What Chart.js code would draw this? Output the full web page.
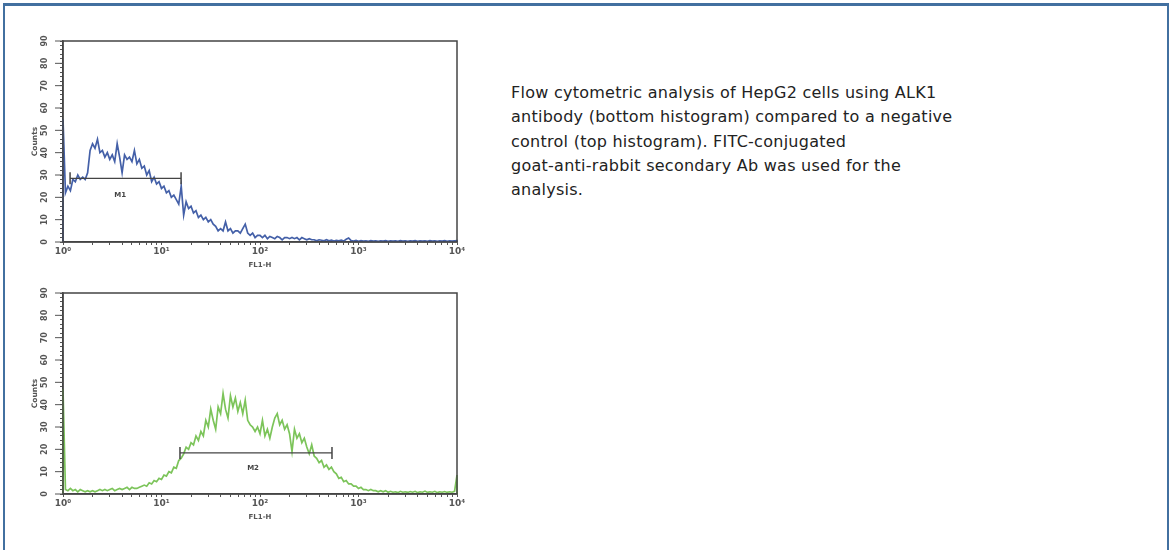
<!DOCTYPE html>
<html><head><meta charset="utf-8">
<script src="https://cdn.jsdelivr.net/npm/chart.js@4.4.1/dist/chart.umd.min.js"></script>
<style>
html,body{margin:0;padding:0;background:#fff;width:1172px;height:550px;overflow:hidden;}
#frame{position:absolute;left:3px;top:3px;width:1166px;height:600px;border-top:3px solid #4270a0;border-left:2px solid #4270a0;border-right:2px solid #4270a0;box-sizing:border-box;}
canvas{position:absolute;left:0;}
#topChart{top:0px;}
#botChart{top:252px;}
#caption{position:absolute;left:511px;top:81px;font-family:"DejaVu Sans",sans-serif;font-size:16px;letter-spacing:0.26px;line-height:24.3px;color:#222;white-space:nowrap;}
</style></head><body>
<div id="frame"></div>
<canvas id="topChart" width="480" height="270"></canvas>
<canvas id="botChart" width="480" height="270"></canvas>
<div id="caption">Flow cytometric analysis of HepG2 cells using ALK1<br>antibody (bottom histogram) compared to a negative<br>control (top histogram). FITC-conjugated<br>goat-anti-rabbit secondary Ab was used for the<br>analysis.</div>
<script>
// FL1-H channel positions (categories)
const fl1Channels = [
1.000,1.000,1.059,1.122,1.189,1.259,1.334,1.413,1.496,1.585,1.679,1.778,1.884,1.995,2.113,2.239,2.371,2.512,2.661,2.818,2.985,3.162,3.350,3.548,3.758,3.981,4.217,4.467,4.732,5.012,5.309,5.623,5.957,6.310,6.683,7.079,7.499,7.943,8.414,8.913,9.441,
10.00,10.59,11.22,11.89,12.59,13.34,14.13,14.96,15.85,16.79,17.78,18.84,19.95,21.13,22.39,23.71,25.12,26.61,28.18,29.85,31.62,33.50,35.48,37.58,39.81,42.17,44.67,47.32,50.12,53.09,56.23,59.57,63.10,66.83,70.79,74.99,79.43,84.14,89.13,94.41,
100.0,105.9,112.2,118.9,125.9,133.4,141.3,149.6,158.5,167.9,177.8,188.4,199.5,211.3,223.9,237.1,251.2,266.1,281.8,298.5,316.2,335.0,354.8,375.8,398.1,421.7,446.7,473.2,501.2,530.9,562.3,595.7,631.0,668.3,707.9,749.9,794.3,841.4,891.3,944.1,
1000,1059,1122,1189,1259,1334,1413,1496,1585,1679,1778,1884,1995,2113,2239,2371,2512,2661,2818,2985,3162,3350,3548,3758,3981,4217,4467,4732,5012,5309,5623,5957,6310,6683,7079,7499,7943,8414,8913,9441,
10000,10000];

// Negative control (top, blue) counts
const controlCounts = [
0,
55,22,25,23,28,27,30,28,29,28,
31,41,44,42,46,40,41,38,40,37,
39,36,44,38,31,39,37,38,36,41,
35,37,33,34,30,32,27,29,26,27,
24,25,22,23,20,21,19,17,25,12,
18,15,16,13,14,11,12,10,11,9,
10,8,7,5,6,5,9,5,6,4,
5,5,4,6,8,4,3,4,2,3,
3,2,3,1.5,2.5,2,1.5,2.5,2,1,
2,2,1.5,2,1.5,2,1,2,1.5,1,
1.5,1,1,0.5,1,0.8,0.5,1,0.5,0.8,
0.4,0.7,0.5,0.8,0.4,1.2,1.8,0.6,0.4,0.7,
0.3,0.6,0.4,0.5,0.3,0.6,0.4,0.5,0.3,0.5,
0.4,0.6,0.3,0.5,0.4,0.5,0.3,0.6,0.4,0.5,
0.3,0.5,0.4,0.6,0.3,0.5,0.4,0.5,0.3,0.6,
0.4,0.5,0.3,0.5,0.4,0.6,0.3,0.5,0.4,0.5,
0.6,0];

// ALK1 antibody (bottom, green) counts
const alk1Counts = [
0,
47,2,1.5,2.5,1.5,2,1,2,1.5,1,
1.5,1,1.5,1,1.5,2,1.5,2,1.5,2,
2.5,1.5,2,2.5,2,2.5,3,2,3,2.5,
2.5,3,3.5,4,3.5,5,4.5,6,5.5,7,
6.5,8.5,8,10,9.5,12,11.5,15,16,18,
21,20,23,22,26,24,28,26,33,30,
38,33,29,39,36,45,38,34,44,39,
43,37,41,36,42,33,31,30,28,30,
27,33,26,29,25,30,34,36,31,33,
29,31,27,19,29,25,27,23,25,21,
18,22,17,16,14,15,12,13,11,12,
10,9,7,7.5,5.5,6,4.5,4.5,3.5,3.5,
2.5,3,2,2,1.5,2,1.5,1.5,1,1.5,
1,1.5,0.8,1.2,0.8,1,0.6,1.2,0.8,1,
0.7,1.1,0.8,1.2,0.6,1,0.8,1.3,0.7,1,
0.8,1.2,0.6,1,0.8,1.1,0.7,1,0.8,1.2,
8.5,0];

// Axis ticks
const xMajorTicks = [1, 10, 100, 1000, 10000];
const xMajorLabels = ['10\u2070', '10\u00B9', '10\u00B2', '10\u00B3', '10\u2074'];
const xMinorMantissas = [2, 3, 4, 5, 6, 7, 8, 9];
const yLabelValues = [0, 10, 20, 30, 40, 50, 60, 70, 80, 90];
const yMinorStep = 2;

// Marker gates
const m1Range = [1.18, 15.8];
const m1Level = 28.5;
const m1LabelPos = [3.8, 21];
const m2Range = [15.4, 538];
const m2Level = 18.4;
const m2LabelPos = [85, 11.7];

function buildXTicks() {
  const t = [];
  for (let d = 0; d < 4; d++) {
    t.push(xMajorTicks[d]);
    xMinorMantissas.forEach(m => t.push(m * xMajorTicks[d]));
  }
  t.push(xMajorTicks[4]);
  return t;
}
function buildYTicks() {
  const t = [];
  for (let v = 0; v <= 90; v += yMinorStep) t.push(v);
  return t;
}

const FONT = 'DejaVu Sans';

function makeChart(id, counts, color, range, level, mName, mPos) {
  const pts = fl1Channels.map((x, i) => ({x: x, y: counts[i]}));
  const decor = {
    id: 'decor',
    afterDraw(chart) {
      const ctx = chart.ctx, a = chart.chartArea;
      const xs = chart.scales.x, ys = chart.scales.y;
      ctx.save();
      ctx.strokeStyle = '#444';
      ctx.lineWidth = 1.5;
      ctx.strokeRect(a.left, a.top, a.right - a.left, a.bottom - a.top);
      ctx.fillStyle = '#555';
      ctx.font = 'bold 8px "' + FONT + '"';
      ctx.textAlign = 'center';
      ctx.textBaseline = 'middle';
      yLabelValues.forEach(v => {
        const py = ys.getPixelForValue(v);
        ctx.beginPath();
        ctx.moveTo(a.left - 8, py);
        ctx.lineTo(a.left, py);
        ctx.lineWidth = 1;
        ctx.strokeStyle = '#555';
        ctx.stroke();
        ctx.save();
        ctx.translate(45, py);
        ctx.rotate(-Math.PI / 2);
        ctx.fillText(String(v), 0, 0);
        ctx.restore();
      });
      ctx.fillStyle = '#444';
      ctx.font = 'bold 7px "' + FONT + '"';
      ctx.fillText(mName, xs.getPixelForValue(mPos[0]), ys.getPixelForValue(mPos[1]));
      ctx.restore();
    }
  };
  return new Chart(document.getElementById(id), {
    type: 'line',
    data: {datasets: [
      {data: pts, borderColor: color, borderWidth: 1.7, pointRadius: 0, tension: 0, clip: 3, order: 2},
      {data: [{x: range[0], y: level}, {x: range[1], y: level}], borderColor: '#444', borderWidth: 1.2,
       pointStyle: 'line', rotation: 90, pointRadius: 6, pointBorderColor: '#444', pointBorderWidth: 1.5,
       pointBackgroundColor: '#444', clip: false, order: 1}
    ]},
    options: {
      responsive: false, animation: false, events: [],
      layout: {padding: {left: 0, top: 41, right: 23, bottom: 0}},
      plugins: {legend: {display: false}, tooltip: {enabled: false}},
      scales: {
        x: {
          type: 'logarithmic', min: 1, max: 10000,
          afterBuildTicks: s => { s.ticks = buildXTicks().map(v => ({value: v})); },
          afterFit: s => { s.height = 28; },
          grid: {drawOnChartArea: false, tickLength: 3, color: '#555', lineWidth: 1},
          border: {color: '#444', width: 1.5},
          ticks: {autoSkip: false, maxRotation: 0, minRotation: 0, padding: 1, color: '#555',
                  font: {size: 9, family: FONT, weight: 'bold'},
                  callback: v => { const i = xMajorTicks.indexOf(v); return i >= 0 ? xMajorLabels[i] : ''; }},
          title: {display: true, text: 'FL1-H', color: '#555', font: {size: 7, family: FONT, weight: 'bold'}, padding: {top: 0, bottom: 1}}
        },
        y: {
          min: 0, max: 90,
          afterBuildTicks: s => { s.ticks = buildYTicks().map(v => ({value: v})); },
          afterFit: s => { s.width = 63; },
          grid: {drawOnChartArea: false, tickLength: 3, color: '#555', lineWidth: 1},
          border: {color: '#444', width: 1.5},
          ticks: {display: false},
          title: {display: true, text: 'Counts', color: '#555', font: {size: 7.5, family: FONT, weight: 'bold'}, padding: {top: 31, bottom: 0}}
        }
      }
    },
    plugins: [decor]
  });
}

makeChart('topChart', controlCounts, '#4460a8', m1Range, m1Level, 'M1', m1LabelPos);
makeChart('botChart', alk1Counts, '#7cc45a', m2Range, m2Level, 'M2', m2LabelPos);
</script>
</body></html>
